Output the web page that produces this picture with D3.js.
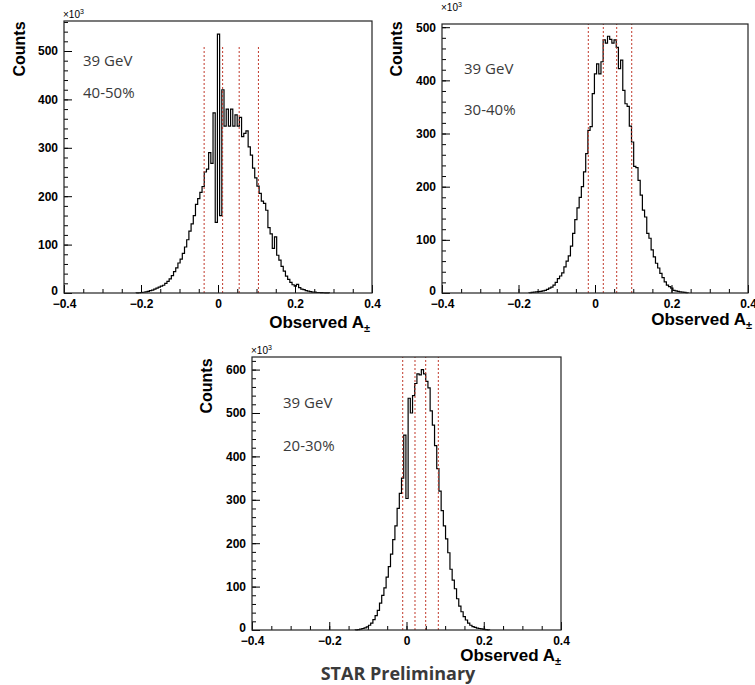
<!DOCTYPE html>
<html><head><meta charset="utf-8">
<script src="https://cdn.jsdelivr.net/npm/d3@7"></script>
<style>body{margin:0;background:#fff} svg{display:block}</style>
</head><body>
<svg id="c" width="755" height="685"></svg>
<script>
// ---------------- data ----------------
const energy = "39 GeV";
const centralities = ["40-50%", "30-40%", "20-30%"];
const xTickValues = [-0.4, -0.2, 0, 0.2, 0.4];
const binWidth = 0.0057;

const start4050 = -0.2124;
const counts4050 = [0.3,0.5,1,1.5,2.5,3.5,5,6,8,10,12,14,16,20,24,29,36,44,52,62,70,82,95,110,128,143,160,183,195,208,220,250,256,290,268,372,146,535,160,420,345,380,345,380,345,368,345,363,323,330,335,302,285,258,238,221,206,190,185,171,135,122,92,116,78,68,55,45,35,28,22,17,14,18,11,8,7,5,4,3,2,2,1,1,0.7,0.5,0.3,0.2];

const start3040 = -0.1725;
const counts3040 = [0.5,1,1.5,2,2.5,3,4,5,7,9,11,15,20,27,32,38,49,60,70,88,112,138,160,180,200,228,262,306,313,375,412,431,412,435,476,470,483,477,470,476,462,422,438,381,356,351,314,284,238,236,212,184,156,143,112,103,81,68,56,47,37,29,21,15,12,9,5,4,3,2,1.5,1,0.5];

const start2030 = -0.1326;
const counts2030 = [0.5,1,2,3.5,5,7,11,16,24,33,45,62,80,97,122,146,175,208,240,280,315,350,449,303,534,500,540,568,590,588,600,590,573,558,505,472,425,372,320,275,240,210,178,140,115,95,72,55,42,31,23,16,11,8,6,4.5,3.5,2.5,1.5,1,0.5];

const cuts4050 = [-0.036, 0.012, 0.055, 0.105];
const cuts3040 = [-0.0175, 0.0217, 0.0567, 0.096];
const cuts2030 = [-0.0098, 0.022, 0.0497, 0.0824];
const cutTop4050 = 510;

const yMax4050 = 562, yMax3040 = 506, yMax2030 = 629;
const yTicks4050 = [0,100,200,300,400,500];
const yTicks3040 = [0,100,200,300,400,500];
const yTicks2030 = [0,100,200,300,400,500,600];

// ---------------- layout ----------------
const panels = [
  {start:start4050, counts:counts4050, cuts:cuts4050, cutTop:cutTop4050, yMax:yMax4050, yTicks:yTicks4050, cent:centralities[0],
   L:64, R:372, T:21, B:293, countsX:19, countsY:49, obsRight:370, obsY:328, txtX:83, txtY1:66, txtY2:98, expX:63, expY:18},
  {start:start3040, counts:counts3040, cuts:cuts3040, cutTop:null, yMax:yMax3040, yTicks:yTicks3040, cent:centralities[1],
   L:442, R:748, T:24, B:293, countsX:396, countsY:49, obsRight:752, obsY:325, txtX:464, txtY1:74, txtY2:115, expX:441, expY:11},
  {start:start2030, counts:counts2030, cuts:cuts2030, cutTop:null, yMax:yMax2030, yTicks:yTicks2030, cent:centralities[2],
   L:252, R:561, T:357, B:630, countsX:206, countsY:386, obsRight:561, obsY:661, txtX:283, txtY1:408, txtY2:451, expX:251, expY:354}
];

const svg = d3.select("#c");
const axisFont = "'Liberation Sans', Arial, sans-serif";

panels.forEach(p => {
  const x = d3.scaleLinear().domain([-0.4, 0.4]).range([p.L, p.R]);
  const y = d3.scaleLinear().domain([0, p.yMax]).range([p.B, p.T]);
  const g = svg.append("g");

  // histogram (step outline)
  const endX = p.start + p.counts.length * binWidth;
  const line = d3.line().x(d => x(d.x)).y(d => y(d.v)).curve(d3.curveStepAfter);
  const pathPts = [{x: p.start, v: 0}, {x: p.start, v: p.counts[0]}].concat(
    p.counts.slice(1).map((v, i) => ({x: p.start + (i + 1) * binWidth, v})),
    [{x: endX, v: p.counts[p.counts.length - 1]}, {x: endX, v: 0}]);
  g.append("path").attr("d", line(pathPts))
    .attr("fill", "none").attr("stroke", "#000").attr("stroke-width", 1.2);

  // cut lines
  g.selectAll(".cut").data(p.cuts).join("line")
    .attr("x1", d => x(d)).attr("x2", d => x(d))
    .attr("y1", y(0)).attr("y2", p.cutTop == null ? p.T : y(p.cutTop))
    .attr("stroke", "#c0392b").attr("stroke-width", 1).attr("stroke-dasharray", "2,2");

  // axes
  const minorX = d3.range(-8, 9).map(k => k * 0.05);
  g.append("g").attr("transform", `translate(0,${p.B})`)
    .call(d3.axisBottom(x).tickValues(minorX).tickSize(-4).tickFormat(""))
    .call(a => a.select(".domain").remove());
  g.append("g").attr("transform", `translate(0,${p.B})`)
    .call(d3.axisBottom(x).tickValues(xTickValues).tickSize(-8).tickPadding(6).tickFormat(d => d === 0 ? "0" : d3.format(".1f")(d)))
    .call(a => a.select(".domain").remove())
    .call(a => a.selectAll("text").attr("font-family", axisFont).attr("font-weight", "bold").attr("font-size", 12).attr("fill", "#000"));

  const minorY = d3.range(0, p.yMax + 0.1, 20);
  g.append("g").attr("transform", `translate(${p.L},0)`)
    .call(d3.axisLeft(y).tickValues(minorY).tickSize(-4).tickFormat(""))
    .call(a => a.select(".domain").remove());
  g.append("g").attr("transform", `translate(${p.L},0)`)
    .call(d3.axisLeft(y).tickValues(p.yTicks).tickSize(-8).tickPadding(6).tickFormat(d3.format("d")))
    .call(a => a.select(".domain").remove())
    .call(a => a.selectAll("text").attr("font-family", axisFont).attr("font-weight", "bold").attr("font-size", 12).attr("fill", "#000"))
    .call(a => a.selectAll("text").filter(d => d === 0).attr("dy", "0.1em"));
  g.selectAll(".tick line").attr("stroke", "#000");

  // frame
  g.append("rect").attr("x", p.L).attr("y", p.T).attr("width", p.R - p.L).attr("height", p.B - p.T)
    .attr("fill", "none").attr("stroke", "#222").attr("stroke-width", 1.2);

  // exponent
  const ex = g.append("text").attr("x", p.expX).attr("y", p.expY)
    .attr("font-family", axisFont).attr("font-size", 10).attr("fill", "#000");
  ex.append("tspan").text("\u00d710");
  ex.append("tspan").attr("dy", -4).attr("font-size", 7).text("3");

  // Counts
  g.append("text").attr("transform", `translate(${p.countsX + 6},${p.countsY}) rotate(-90)`)
    .attr("text-anchor", "middle").attr("font-family", axisFont).attr("font-weight", "bold")
    .attr("font-size", 16).attr("fill", "#000").text("Counts");

  // Observed A±
  const ot = g.append("text").attr("x", p.obsRight).attr("y", p.obsY).attr("text-anchor", "end")
    .attr("font-family", axisFont).attr("font-weight", "bold").attr("font-size", 17).attr("fill", "#000");
  ot.append("tspan").text("Observed A");
  ot.append("tspan").attr("dy", 4).attr("font-size", 11).text("\u00b1");

  // annotations
  g.append("text").attr("x", p.txtX).attr("y", p.txtY1).attr("font-family", "'Open Sans', sans-serif")
    .attr("font-size", 15).attr("fill", "#3a3a3a").text(energy);
  g.append("text").attr("x", p.txtX).attr("y", p.txtY2).attr("font-family", "'Open Sans', sans-serif")
    .attr("font-size", 15).attr("fill", "#3a3a3a").text(p.cent);
});

svg.append("text").attr("x", 398).attr("y", 680).attr("text-anchor", "middle")
  .attr("font-family", "'Open Sans', sans-serif").attr("font-weight", "bold")
  .attr("font-size", 18).attr("fill", "#3a3a3a").text("STAR Preliminary");
</script>
</body></html>
